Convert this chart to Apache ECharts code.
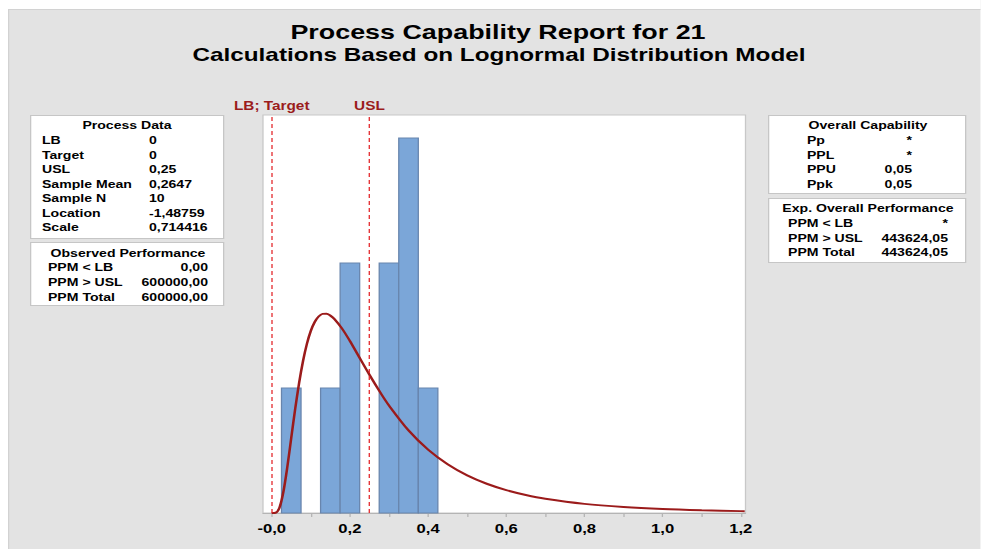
<!DOCTYPE html>
<html>
<head>
<meta charset="utf-8">
<title>Process Capability Report for 21</title>
<script src="https://cdn.jsdelivr.net/npm/echarts@6/dist/echarts.min.js"></script>
<style>
  html, body { margin: 0; padding: 0; background: #ffffff; overflow: hidden; }
  #wrap { width: 981px; height: 549px; overflow: hidden; position: relative; }
  #chart { position: absolute; left: 0; top: 0; height: 549px; transform-origin: 0 0; }
</style>
</head>
<body>
<div id="wrap"><div id="chart"></div></div>
<script>
// ---- Histogram of the 10 observations (bin edges and counts) ----
const binStarts = [0.025, 0.075, 0.125, 0.175, 0.225, 0.275, 0.325, 0.375];
const binEnds   = [0.075, 0.125, 0.175, 0.225, 0.275, 0.325, 0.375, 0.425];
const binCounts = [1, 0, 1, 2, 0, 2, 3, 1];

// ---- Fitted lognormal density, scaled to counts ----
const curveX = [0, 0.01, 0.02, 0.03, 0.04, 0.05, 0.06, 0.07, 0.08, 0.09, 0.10, 0.11, 0.12, 0.13,
  0.14, 0.15, 0.16, 0.18, 0.20, 0.22, 0.25, 0.28, 0.30, 0.35, 0.40, 0.45, 0.50, 0.55, 0.60,
  0.65, 0.70, 0.80, 0.90, 1.00, 1.10, 1.20, 1.21];
const curveY = [0, 0.002, 0.044, 0.172, 0.370, 0.602, 0.832, 1.039, 1.214, 1.353, 1.457, 1.528,
  1.572, 1.593, 1.594, 1.579, 1.553, 1.475, 1.376, 1.268, 1.106, 0.953, 0.860, 0.661, 0.507,
  0.390, 0.301, 0.234, 0.183, 0.144, 0.114, 0.073, 0.048, 0.032, 0.022, 0.015, 0.0146];

// ---- Specification limits ----
const specLimits = [0, 0.25];
const specNames = ['LB; Target', 'USL'];

// ---- X axis ticks ----
const tickValues = [0, 0.2, 0.4, 0.6, 0.8, 1.0, 1.2];
const tickLabels = ['-0,0', '0,2', '0,4', '0,6', '0,8', '1,0', '1,2'];
const minorTickValues = [0, 0.1, 0.2, 0.3, 0.4, 0.5, 0.6, 0.7, 0.8, 0.9, 1.0, 1.1, 1.2];

// ---- Summary tables ----
const processDataLabels = ['LB', 'Target', 'USL', 'Sample Mean', 'Sample N', 'Location', 'Scale'];
const processDataValues = ['0', '0', '0,25', '0,2647', '10', '-1,48759', '0,714416'];
const observedLabels = ['PPM < LB', 'PPM > USL', 'PPM Total'];
const observedValues = ['0,00', '600000,00', '600000,00'];
const capabilityLabels = ['Pp', 'PPL', 'PPU', 'Ppk'];
const capabilityValues = ['*', '*', '0,05', '0,05'];
const expectedLabels = ['PPM < LB', 'PPM > USL', 'PPM Total'];
const expectedValues = ['*', '443624,05', '443624,05'];

// The report is laid out on a narrower canvas and widened horizontally.
const S = 1.28;
const W = 981 / S;
const H = 549;
const FONT = '"Liberation Sans", Arial, Helvetica, sans-serif';
const sx = px => px / S;

const el = document.getElementById('chart');
el.style.width = W + 'px';
el.style.transform = 'scaleX(' + S + ')';

const graphics = [];

function addText(text, xPx, y, align, size, color) {
  graphics.push({
    type: 'text',
    z: 110,
    silent: true,
    style: {
      text: text,
      x: sx(xPx),
      y: y,
      textAlign: align,
      textVerticalAlign: 'middle',
      font: 'bold ' + size + 'px ' + FONT,
      fill: color || '#000000'
    }
  });
}

function addBox(x0, y0, x1, y1) {
  graphics.push({
    type: 'rect',
    z: 100,
    silent: true,
    shape: { x: sx(x0) + 0.5, y: y0 + 0.5, width: sx(x1 - x0), height: y1 - y0 },
    style: { fill: '#ffffff', stroke: '#c6c6c6', lineWidth: 1 }
  });
}

// white margin strips and the frame edge of the grey report area
graphics.push({ type: 'rect', z: 1, silent: true, shape: { x: 0, y: 0, width: W, height: 9 }, style: { fill: '#ffffff' } });
graphics.push({ type: 'rect', z: 1, silent: true, shape: { x: 0, y: 0, width: sx(8), height: H }, style: { fill: '#ffffff' } });
graphics.push({ type: 'polyline', z: 2, silent: true, shape: { points: [[sx(8) + 0.5, H], [sx(8) + 0.5, 9.5], [W, 9.5]] }, style: { stroke: '#d2d2d2', lineWidth: 1, fill: null } });

// titles
addText('Process Capability Report for 21', 498, 32, 'center', 21);
addText('Calculations Based on Lognormal Distribution Model', 499, 54, 'center', 19);

// Process Data table
addBox(30, 115, 223, 238);
addText('Process Data', 127, 126, 'center', 11);
processDataLabels.forEach((t, i) => {
  addText(t, 42, 141 + i * 14.5, 'left', 11);
  addText(processDataValues[i], 149, 141 + i * 14.5, 'left', 11);
});

// Observed Performance table
addBox(30, 242, 223, 305);
addText('Observed Performance', 128, 254, 'center', 11);
observedLabels.forEach((t, i) => {
  addText(t, 48, 268 + i * 15, 'left', 11);
  addText(observedValues[i], 208, 268 + i * 15, 'right', 11);
});

// Overall Capability table
addBox(768, 115, 965, 193);
addText('Overall Capability', 868, 126, 'center', 11);
capabilityLabels.forEach((t, i) => {
  addText(t, 807, 141 + i * 14.5, 'left', 11);
  addText(capabilityValues[i], 912, 141 + i * 14.5, 'right', 11);
});

// Expected Overall Performance table
addBox(768, 198, 965, 262);
addText('Exp. Overall Performance', 868, 209, 'center', 11);
expectedLabels.forEach((t, i) => {
  addText(t, 788, 224 + i * 14.5, 'left', 11);
  addText(expectedValues[i], 948, 224 + i * 14.5, 'right', 11);
});

const histData = binStarts.map((s, i) => [s, binEnds[i], binCounts[i]]);
const curveData = curveX.map((x, i) => [x, curveY[i]]);

const chart = echarts.init(el, null, { renderer: 'svg', width: W, height: H });

chart.setOption({
  animation: false,
  backgroundColor: '#e3e3e3',
  graphic: { elements: graphics },
  grid: {
    show: true,
    left: sx(263),
    top: 115,
    width: sx(745.5 - 263),
    height: 398,
    backgroundColor: '#ffffff',
    borderColor: '#c8c8c8',
    borderWidth: 1,
    containLabel: false
  },
  xAxis: {
    type: 'value',
    min: -0.0223,
    max: 1.212,
    splitLine: { show: false },
    axisLine: { show: true, onZero: false, lineStyle: { color: '#b4b4b4', width: 1 } },
    axisTick: {
      show: true,
      customValues: minorTickValues,
      length: 4,
      lineStyle: { color: '#b4b4b4' }
    },
    axisLabel: {
      show: true,
      customValues: tickValues,
      margin: 9,
      color: '#000000',
      fontFamily: FONT,
      fontWeight: 'bold',
      fontSize: 13,
      formatter: v => {
        const k = tickValues.findIndex(t => Math.abs(t - v) < 1e-6);
        return k >= 0 ? tickLabels[k] : '';
      }
    }
  },
  yAxis: {
    type: 'value',
    min: 0,
    max: 3.184,
    show: false,
    splitLine: { show: false }
  },
  series: [
    {
      type: 'custom',
      name: 'Histogram',
      data: histData,
      encode: { x: [0, 1], y: 2 },
      renderItem: (params, api) => {
        const c = api.value(2);
        if (!c) return null;
        const p0 = api.coord([api.value(0), 0]);
        const p1 = api.coord([api.value(1), c]);
        return {
          type: 'rect',
          shape: { x: p0[0], y: p1[1], width: p1[0] - p0[0], height: p0[1] - p1[1] },
          style: { fill: '#7ba6d8', stroke: '#6885ad', lineWidth: 1 }
        };
      },
      z: 2
    },
    {
      type: 'line',
      name: 'Lognormal fit',
      data: curveData,
      smooth: 0.3,
      symbol: 'none',
      lineStyle: { color: '#9b1b1b', width: 2 },
      z: 4,
      markLine: {
        silent: true,
        symbol: ['none', 'none'],
        lineStyle: { color: '#e3262a', width: 1, type: [4, 3] },
        label: {
          show: true,
          position: 'end',
          distance: 3,
          formatter: '{b}',
          color: '#9b1c1c',
          fontFamily: FONT,
          fontWeight: 'bold',
          fontSize: 12
        },
        data: specLimits.map((v, i) => ({ xAxis: v, name: specNames[i] }))
      }
    }
  ]
});
</script>
</body>
</html>
